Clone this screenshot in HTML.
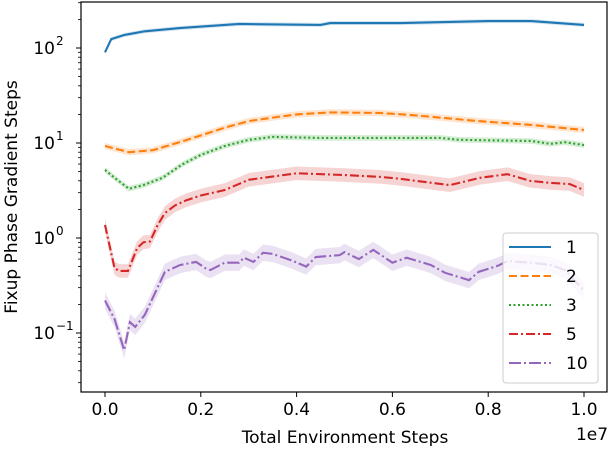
<!DOCTYPE html>
<html><head><meta charset="utf-8"><style>
body{margin:0;background:#fff}
svg text{font-family:"DejaVu Sans","Liberation Sans",sans-serif;fill:#000}
</style></head><body>
<svg id="chart" width="610" height="446" viewBox="0 0 610 446" xmlns="http://www.w3.org/2000/svg">
<rect width="610" height="446" fill="#fff"/>
<g id="bands"></g><g id="lines"></g>
<rect x="81" y="2" width="526" height="390" fill="none" stroke="#000" stroke-width="1.2"/>
<g id="axes"></g>
<text x="345" y="443" font-size="17" text-anchor="middle">Total Environment Steps</text>
<text x="592" y="440" font-size="17" text-anchor="middle">1e7</text>
<text transform="translate(17,197) rotate(-90)" font-size="17" text-anchor="middle">Fixup Phase Gradient Steps</text>
<g>
<rect x="503" y="233" width="95" height="150" rx="3" fill="#fff" fill-opacity="0.8" stroke="#ccc"/>
<g id="legend"></g>
</g>
</svg>
<script>
const names = ["1","2","3","5","10"];
const colors = ["#1f77b4","#ff7f0e","#2ca02c","#d62728","#9467bd"];
const dashes = ["","8,3.5","2,2.5","9,3,2,3","12,3,2,3"];
const bandFrac = [0.05,0.08,0.07,0.18,0.22];
const xTicks = [0,0.2,0.4,0.6,0.8,1.0];
const xTickLabels = ["0.0","0.2","0.4","0.6","0.8","1.0"];
const yDecades = [-1,0,1,2];
const s1x = [0,0.013,0.04,0.083,0.156,0.28,0.45,0.47,0.617,0.72,0.8,0.89,1.0];
const s1y = [90,124,137,150,162,179,175,183,183,188,192,192,175];
const s2x = [0,0.05,0.1,0.15,0.2,0.25,0.3,0.35,0.4,0.47,0.574,0.64,0.71,0.78,0.89,1.0];
const s2y = [9.3,8.0,8.4,10,12,14.5,17,18.5,20,21,20.7,19.7,18.3,17.0,15.5,13.7];
const s3x = [0,0.02,0.05,0.08,0.12,0.16,0.2,0.25,0.3,0.35,0.45,0.574,0.7,0.74,0.89,0.93,0.96,1.0];
const s3y = [5.2,4.3,3.3,3.6,4.3,5.9,7.5,9.3,10.8,11.6,11.3,11.3,11.3,10.8,10.5,9.8,10.2,9.5];
const s5x = [0,0.02,0.03,0.048,0.067,0.08,0.094,0.11,0.125,0.146,0.17,0.2,0.25,0.3,0.4,0.5,0.574,0.616,0.72,0.783,0.84,0.887,0.93,0.97,1.0];
const s5y = [1.37,0.48,0.45,0.45,0.78,0.9,0.92,1.37,1.83,2.2,2.5,2.8,3.2,4.1,4.8,4.6,4.4,4.2,3.6,4.3,4.7,4.0,3.8,3.7,3.2];
const s10x = [0,0.02,0.04,0.052,0.063,0.083,0.125,0.157,0.19,0.21,0.22,0.25,0.28,0.29,0.31,0.33,0.35,0.39,0.42,0.44,0.49,0.5,0.53,0.56,0.6,0.63,0.68,0.71,0.76,0.78,0.82,0.84,0.89,0.93,0.96,1.0];
const s10y = [0.22,0.14,0.066,0.13,0.116,0.155,0.44,0.52,0.56,0.48,0.46,0.55,0.55,0.62,0.56,0.70,0.68,0.58,0.5,0.63,0.66,0.71,0.6,0.75,0.55,0.62,0.52,0.43,0.36,0.44,0.51,0.57,0.55,0.52,0.46,0.28];
const seriesX = [s1x,s2x,s3x,s5x,s10x];
const seriesY = [s1y,s2y,s3y,s5y,s10y];

const NS="http://www.w3.org/2000/svg";
const X = v => 105 + v*479;
const Y = v => 238 - 95*Math.log10(v);
function mk(tag, attrs, parent){const e=document.createElementNS(NS,tag);for(const k in attrs)e.setAttribute(k,attrs[k]);parent.appendChild(e);return e;}
const bands=document.getElementById('bands'), lines=document.getElementById('lines'), axes=document.getElementById('axes'), leg=document.getElementById('legend');
seriesX.forEach((xs,i)=>{
  const ys=seriesY[i], f=bandFrac[i];
  const up=xs.map((x,j)=>X(x)+','+Y(ys[j]*(1+f))), lo=xs.map((x,j)=>X(x)+','+Y(ys[j]/(1+f))).reverse();
  const b=mk('polygon',{points:up.concat(lo).join(' '),fill:colors[i],'fill-opacity':0.2,stroke:'none'},bands);
  
  
  const l=mk('polyline',{points:xs.map((x,j)=>X(x)+','+Y(ys[j])).join(' '),fill:'none',stroke:colors[i],'stroke-width':2.1,'stroke-dasharray':dashes[i]},lines);
  
  
  const ly=247+29*i;
  const ll=mk('line',{x1:509,x2:551,y1:ly,y2:ly,stroke:colors[i],'stroke-width':2.1,'stroke-dasharray':dashes[i]},leg);
  
  
  const lt=mk('text',{x:566,y:ly+6,'font-size':17},leg);lt.textContent=names[i];
  
  
});
xTicks.forEach((t,i)=>{
  mk('line',{x1:X(t),x2:X(t),y1:392,y2:397,stroke:'#000','stroke-width':1},axes);
  const tx=mk('text',{x:X(t),y:415,'font-size':17,'text-anchor':'middle'},axes);tx.textContent=xTickLabels[i];
  
  
});
yDecades.forEach(d=>{
  const y=Y(Math.pow(10,d));
  mk('line',{x1:76,x2:81,y1:y,y2:y,stroke:'#000','stroke-width':1},axes);
  const tx=mk('text',{x:55,y:y+6,'font-size':17,'text-anchor':'end'},axes);
  tx.textContent='10';
  
  
  const sp=mk('text',{x:56,y:y-3,'font-size':12},axes);sp.textContent=d<0?'\u2212'+(-d):String(d);
});
for(let d=-2;d<=2;d++)for(let m=2;m<=9;m++){const y=Y(m*Math.pow(10,d));if(y>2&&y<392)mk('line',{x1:78,x2:81,y1:y,y2:y,stroke:'#000','stroke-width':0.8},axes);}
</script>
</body></html>
